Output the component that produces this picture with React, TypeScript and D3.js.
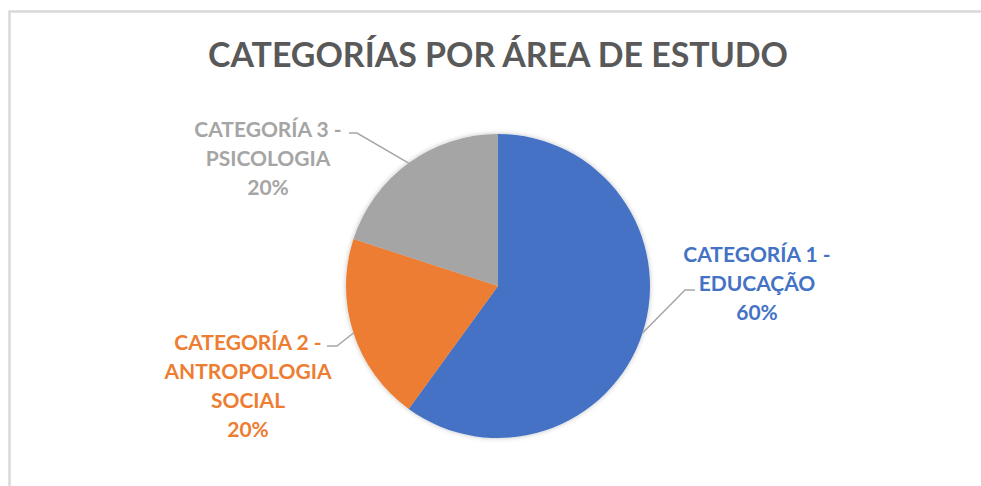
import React from "react";
import * as d3 from "d3";

const categories = ["CATEGORÍA 1 - EDUCAÇÃO", "CATEGORÍA 2 - ANTROPOLOGIA SOCIAL", "CATEGORÍA 3 - PSICOLOGIA"];
const labelLines = [
  ["CATEGORÍA 1 -", "EDUCAÇÃO"],
  ["CATEGORÍA 2 -", "ANTROPOLOGIA", "SOCIAL"],
  ["CATEGORÍA 3 -", "PSICOLOGIA"],
];
const values = [60, 20, 20];
const colors = ["#4472C4", "#ED7D31", "#A5A5A5"];
const title = "CATEGORÍAS POR ÁREA DE ESTUDO";

const W = 981;
const H = 486;
const cx = 498;
const cy = 286;
const R = 152;
const FONT = "Lato, 'Open Sans', sans-serif";

// label layout: center x, first baseline, knee point, end of horizontal
const labelLayout = [
  { x: 757, y: 262, knee: [685, 290], end: [695, 290] },
  { x: 248, y: 350, knee: [337, 346], end: [327, 346] },
  { x: 268, y: 137, knee: [357, 133], end: [349, 133] },
];

export default function App() {
  const pie = d3.pie<number>().sort(null).value((d) => d);
  const arcs = pie(values);
  const arc = d3.arc<d3.PieArcDatum<number>>().innerRadius(0).outerRadius(R);
  const total = d3.sum(values);
  const pct = d3.format(".0%");
  const lh = 29;

  return (
    <svg width={W} height={H} style={{ position: "absolute", left: 0, top: 0 }}>
      <defs>
        <filter id="sh" x="-20%" y="-20%" width="140%" height="140%">
          <feDropShadow dx="0" dy="0" stdDeviation="2.5" floodColor="#000" floodOpacity="0.25" />
        </filter>
      </defs>
      <rect x={0} y={0} width={W} height={H} fill="#fff" />
      <rect x={9.5} y={11.5} width={1100} height={600} fill="#fff" stroke="#d9d9d9" strokeWidth={2.5} />
      <text
        x={498}
        y={67}
        textAnchor="middle"
        fontFamily={FONT}
        fontWeight={700}
        fontSize={35}
        textLength={580}
        lengthAdjust="spacingAndGlyphs"
        fill="#595959"
      >
        {title}
      </text>
      <g transform={`translate(${cx},${cy})`} filter="url(#sh)">
        {arcs.map((a, i) => (
          <path key={categories[i]} d={arc(a) || ""} fill={colors[i]} />
        ))}
      </g>
      {arcs.map((a, i) => {
        const mid = (a.startAngle + a.endAngle) / 2;
        const px = cx + R * Math.sin(mid);
        const py = cy - R * Math.cos(mid);
        const L = labelLayout[i];
        const lines = [...labelLines[i], pct(values[i] / total)];
        return (
          <g key={"l" + i}>
            <polyline
              points={`${px},${py} ${L.knee[0]},${L.knee[1]} ${L.end[0]},${L.end[1]}`}
              fill="none"
              stroke="#a6a6a6"
              strokeWidth={1.5}
            />
            <text textAnchor="middle" fontFamily={FONT} fontWeight={700} fontSize={21} fill={colors[i]}>
              {lines.map((t, j) => (
                <tspan key={j} x={L.x} y={L.y + j * lh}>
                  {t}
                </tspan>
              ))}
            </text>
          </g>
        );
      })}
    </svg>
  );
}
